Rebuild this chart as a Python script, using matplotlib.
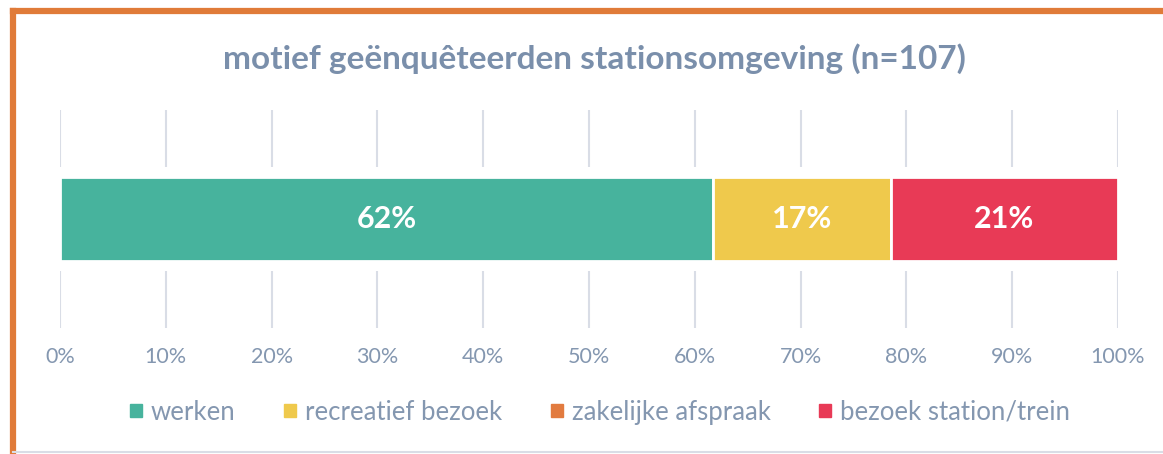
import matplotlib.pyplot as plt
from matplotlib.patches import Rectangle
from matplotlib.lines import Line2D

CATEGORIES = ["werken", "recreatief bezoek", "zakelijke afspraak", "bezoek station/trein"]
VALUES = [61.7, 16.8, 0.0, 21.5]
LABELS = ["62%", "17%", "", "21%"]
COLORS = ["#47b39d", "#efc94c", "#e27b3f", "#e83a56"]
TICKS = list(range(0, 101, 10))

TEXT_COLOR = "#8497b0"
TITLE_COLOR = "#7a8fab"
GRID_COLOR = "#d9dde6"

plt.rcParams['font.family'] = ['Lato', 'DejaVu Sans']

fig = plt.figure(figsize=(11.63, 4.54), dpi=100)
ax = fig.add_axes([0.0516, 0.2775, 0.9097, 0.4802])

left = 0
for cat, val, lab, col in zip(CATEGORIES, VALUES, LABELS, COLORS):
    # white backing to cut the gridlines around the bar
    ax.barh(0, val, left=left, height=0.48, color="white", zorder=2, linewidth=0)
    ax.barh(0, val, left=left, height=0.385, color=col, edgecolor="white",
            linewidth=2, zorder=3, label=cat)
    if lab:
        ax.text(left + val / 2, 0, lab, ha="center", va="center", color="white",
                fontsize=22, fontweight="bold", zorder=4)
    left += val

ax.set_xlim(0, 100)
ax.set_ylim(-0.5, 0.5)
ax.set_xticks(TICKS)
ax.set_xticklabels([f"{t}%" for t in TICKS])
ax.set_yticks([])
ax.tick_params(axis="x", length=0, pad=14, labelsize=15.5, labelcolor=TEXT_COLOR)
ax.grid(axis="x", color=GRID_COLOR, linewidth=1.5, zorder=1)
ax.set_axisbelow(True)
for s in ax.spines.values():
    s.set_visible(False)

fig.text(0.511, 0.872, "motief geënquêteerden stationsomgeving (n=107)", ha="center",
         va="center", fontsize=24, fontweight="bold", color=TITLE_COLOR)

handles = [Rectangle((0, 0), 1, 1, color=c) for c in COLORS]
leg = fig.legend(handles, CATEGORIES, loc="center", bbox_to_anchor=(0.516, 0.092),
                 ncol=4, frameon=False, fontsize=18.5, handlelength=0.45, handleheight=0.45,
                 handletextpad=0.35, columnspacing=1.9)
for t in leg.get_texts():
    t.set_color(TEXT_COLOR)

# orange frame on top and left, light grey at the bottom
fig.add_artist(Line2D([0.0113, 1.0], [0.975, 0.975], color="#e07b39", linewidth=4.5,
                      transform=fig.transFigure))
fig.add_artist(Line2D([0.0113, 0.0113], [0.0, 0.975], color="#e07b39", linewidth=4.5,
                      transform=fig.transFigure))
fig.add_artist(Line2D([0.0113, 1.0], [0.004, 0.004], color="#d9dde6", linewidth=1.5,
                      transform=fig.transFigure))

fig.savefig("out.png", dpi=100)
